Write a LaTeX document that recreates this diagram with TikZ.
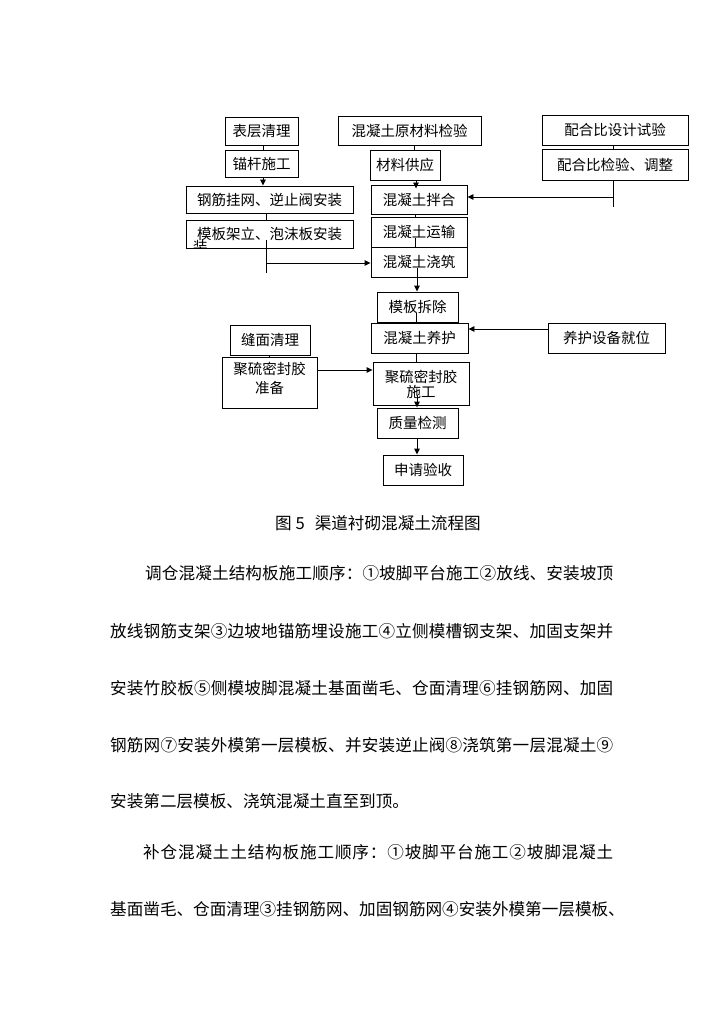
\documentclass[tikz,border=0pt]{standalone}
\usepackage{fontspec}
\newfontfamily\cjk{Noto Sans CJK SC}
\usetikzlibrary{arrows.meta}
\def\spreadloop#1{#1\futurelet\spreadnext\spreadcheck}
\def\spreadcheck{\ifx\spreadnext\relax\expandafter\spreadstop\else\hfil\expandafter\spreadloop\fi}
\def\spreadstop\relax{}
\newcommand\spreadline[2]{\hbox to #1{\spreadloop#2\relax}}
\begin{document}
\begin{tikzpicture}[x=1pt,y=-1pt,
 box/.style={draw, line width=0.9pt, inner sep=0pt, font=\cjk\fontsize{14.5}{17}\selectfont, align=center},
 boxtext/.style={inner sep=0pt, align=center},
 conn/.style={line width=0.9pt},
 arr/.style={conn, -{Triangle[length=6pt,width=5.5pt]}},
 body/.style={anchor=west, inner sep=0pt, font=\cjk\fontsize{16.6}{20}\selectfont},
 captext/.style={inner sep=0pt, font=\cjk\fontsize{16.6}{20}\selectfont}]
\useasboundingbox[fill=white] (0,0) rectangle (724,1024);

% left column
\node[box, minimum width=73pt, minimum height=28pt] (a1) at (261.5,131) {表层清理};
\node[box, minimum width=73pt, minimum height=27pt] (a2) at (261.5,163.5) {锚杆施工};
\node[box, minimum width=167pt, minimum height=27pt] (a3) at (269.5,199.5) {钢筋挂网、逆止阀安装};
\node[box, minimum width=167pt, minimum height=28pt] (a4) at (269.5,234) {模板架立、泡沫板安装};
\begin{scope}
 \clip (186,220) rectangle (353,248);
 \node[inner sep=0pt, anchor=north west, font=\cjk\fontsize{14.5}{17}\selectfont] (frag) at (193,240.5) {装};
\end{scope}

% middle column
\node[box, minimum width=143pt, minimum height=29pt] (b1) at (409.5,130.5) {混凝土原材料检验};
\node[box, minimum width=70pt, minimum height=30pt] (b2) at (405,165) {材料供应};
\node[box, minimum width=96pt, minimum height=29pt] (b3) at (419,199.5) {混凝土拌合};
\node[box, minimum width=96pt, minimum height=30pt] (b4) at (419,232) {混凝土运输};
\node[box, minimum width=96pt, minimum height=30pt] (b5) at (419,262) {混凝土浇筑};
\node[box, minimum width=81pt, minimum height=30pt] (b6) at (417.5,307) {模板拆除};
\node[box, minimum width=97pt, minimum height=30pt] (b7) at (419.5,338) {混凝土养护};
\node[box, minimum width=96pt, minimum height=43pt] (b8) at (421,383.5) {};
\node[boxtext, font=\cjk\fontsize{14.5}{15}\selectfont] (b8t) at (421,384) {聚硫密封胶\\施工};
\node[box, minimum width=81pt, minimum height=30pt] (b9) at (417.5,423) {质量检测};
\node[box, minimum width=80pt, minimum height=30pt] (b10) at (423,470) {申请验收};

% right column
\node[box, minimum width=146pt, minimum height=30pt] (c1) at (615,130) {配合比设计试验};
\node[box, minimum width=146pt, minimum height=31pt] (c2) at (615,164.5) {配合比检验、调整};
\node[box, minimum width=117pt, minimum height=30pt] (e1) at (606.5,338) {养护设备就位};

% lower left
\node[box, minimum width=80pt, minimum height=30pt] (d1) at (270,340) {缝面清理};
\node[box, minimum width=95pt, minimum height=51pt] (d2) at (269.5,382.5) {};
\node[boxtext, font=\cjk\fontsize{14.5}{19}\selectfont] (d2t) at (269.5,378) {聚硫密封胶\\准备};

% column coordinates
\coordinate (xa) at (263,0);
\coordinate (xb) at (266,0);
\coordinate (xs) at (414,0);
\coordinate (xt) at (416,0);
\coordinate (xm) at (415,0);
\coordinate (xk) at (417,0);
\coordinate (xc) at (613,0);
\coordinate (xd) at (269,0);

% connectors
\draw[conn] (a1.south -| xa) -- (a2.north -| xa);
\draw[arr] (a2.south -| xa) -- (a3.north -| xa);
\draw[conn] (a3.south -| xb) -- (a4.north -| xb);
\coordinate (j1) at (266,263);
\coordinate (t1) at (266,273);
\draw[conn] ([yshift=8pt]a4.south -| xb) -- (t1);
\draw[arr] (j1) -- (b5.west |- j1);

\draw[conn] (b1.south -| xs) -- (b2.north -| xs);
\draw[arr] (b2.south -| xt) -- ([yshift=-4pt]b3.north -| xt);
\draw[conn] (b3.south -| xm) -- (b4.north -| xm);
\draw[conn] ([yshift=9pt]b4.south -| xm) -- (b5.north -| xm);
\draw[arr] ([yshift=9pt]b5.south -| xk) -- (b6.north -| xk);
\draw[conn] ([yshift=9pt]b6.south -| xt) -- (b7.north -| xt);
\draw[conn] (b7.south -| xt) -- (b8.north -| xt);
\draw[arr] ([yshift=10pt]b8.south -| xk) -- (b9.north -| xk);
\draw[arr] (b9.south -| xk) -- (b10.north -| xk);

\draw[conn] (c1.south -| xc) -- (c2.north -| xc);
\coordinate (j2) at (613,197);
\coordinate (t2) at (613,207);
\draw[conn] (c2.south -| xc) -- (t2);
\draw[arr] (j2) -- (b3.east |- j2);

\coordinate (j3) at (0,329);
\draw[arr] (e1.west |- j3) -- (b7.east |- j3);

\draw[conn] (d1.south -| xd) -- (d2.north -| xd);
\coordinate (j4) at (0,370);
\draw[arr] (d2.east |- j4) -- (b8.west |- j4);

% caption
\node[captext] (caption) at (378,523) {图 5\hspace{10pt}渠道衬砌混凝土流程图};

% body text
\node[body] (l1) at (145,573) {\spreadline{468pt}{调仓混凝土结构板施工顺序：①坡脚平台施工②放线、安装坡顶}};
\node[body] (l2) at (110,631) {\spreadline{503pt}{放线钢筋支架③边坡地锚筋埋设施工④立侧模槽钢支架、加固支架并}};
\node[body] (l3) at (110,688) {\spreadline{503pt}{安装竹胶板⑤侧模坡脚混凝土基面凿毛、仓面清理⑥挂钢筋网、加固}};
\node[body] (l4) at (110,745) {\spreadline{503pt}{钢筋网⑦安装外模第一层模板、并安装逆止阀⑧浇筑第一层混凝土⑨}};
\node[body] (l5) at (110,801) {安装第二层模板、浇筑混凝土直至到顶。};
\node[body] (l6) at (143,852) {\spreadline{470pt}{补仓混凝土土结构板施工顺序：①坡脚平台施工②坡脚混凝土}};
\node[body] (l7) at (110,909) {\spreadline{503pt}{基面凿毛、仓面清理③挂钢筋网、加固钢筋网④安装外模第一层模板、}};
\end{tikzpicture}
\end{document}
